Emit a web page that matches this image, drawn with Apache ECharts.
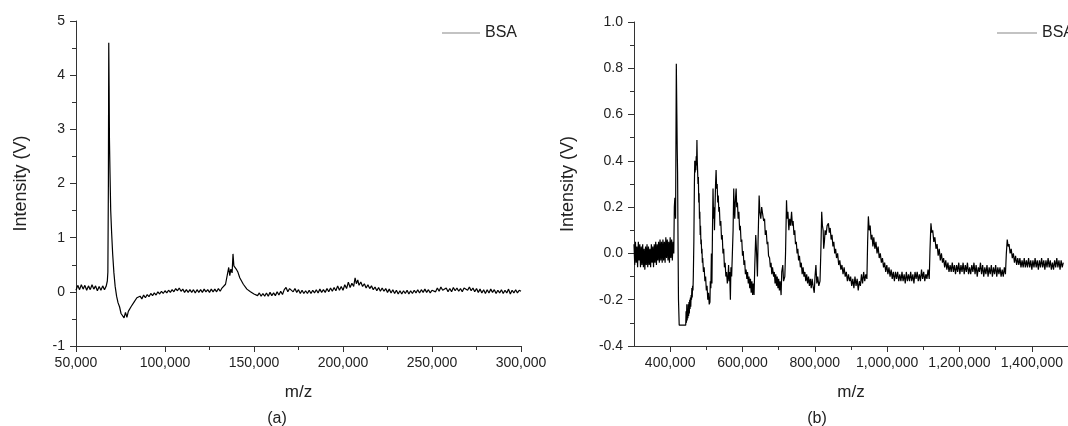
<!DOCTYPE html>
<html lang="en">
<head>
    <meta charset="UTF-8">
    <title>BSA spectra</title>
    <script src="https://cdn.jsdelivr.net/npm/echarts@6/dist/echarts.min.js"></script>
    <style>
        html, body { margin: 0; padding: 0; background: #fff; }
        #chart { width: 1068px; height: 426px; }
    </style>
</head>
<body>
<div id="chart"></div>
<script>
    // (a) low mass range, [m/z, intensity V]
    var bsaA = [
        [50000,0.03],[51000,0.12],[52000,0.04],[53000,0.13],[54000,0.05],[55000,0.12],[56000,0.03],[57000,0.11],
        [58000,0.04],[59000,0.13],[60000,0.05],[61000,0.11],[62000,0.02],[63000,0.10],[64000,0.03],[65000,0.11],
        [66000,0.04],[67000,0.11],[67600,0.20],[67900,0.36],[68200,2.0],[68400,4.6],[68600,3.8],[68800,2.8],
        [69100,2.2],[69500,1.5],[70000,1.1],[70600,0.7],[71300,0.35],[72000,0.1],[72800,-0.08],[73600,-0.2],
        [74500,-0.28],[75300,-0.40],[76200,-0.40],[77000,-0.48],[77800,-0.38],[78600,-0.47],[79400,-0.36],[80200,-0.37],
        [81000,-0.27],[81800,-0.30],[82600,-0.19],[83400,-0.22],[84200,-0.11],[85000,-0.14],[86000,-0.08],[87000,-0.13],
        [88000,-0.06],[89000,-0.11],[90000,-0.05],[91000,-0.09],[92000,-0.03],[93000,-0.07],[94000,-0.02],[95000,-0.06],
        [96000,0.0],[97000,-0.04],[98000,0.01],[99000,-0.03],[100000,0.02],[101000,-0.02],[102000,0.03],[103000,-0.01],
        [104000,0.04],[105000,0.0],[106000,0.06],[107000,0.02],[108000,0.07],[109000,0.01],[110000,0.05],[111000,-0.01],
        [112000,0.04],[113000,-0.01],[114000,0.04],[115000,-0.01],[116000,0.04],[117000,-0.02],[118000,0.04],[119000,-0.01],
        [120000,0.04],[121000,-0.01],[122000,0.05],[123000,0.0],[124000,0.04],[125000,-0.01],[126000,0.05],[127000,0.0],
        [128000,0.05],[129000,0.0],[130000,0.06],[131000,0.01],[132000,0.07],[133000,0.04],[134000,0.14],[135000,0.16],
        [135800,0.45],[136400,0.3],[137000,0.42],[137700,0.35],[138200,0.7],[138700,0.48],[139300,0.5],[140000,0.42],
        [141000,0.36],[142000,0.26],[143000,0.23],[144000,0.14],[145000,0.13],[146000,0.05],[147000,0.06],[148000,0.0],
        [149000,0.03],[150000,-0.04],[151000,-0.01],[152000,-0.07],[153000,-0.02],[154000,-0.08],[155000,-0.03],[156000,-0.08],
        [157000,-0.02],[158000,-0.08],[159000,-0.01],[160000,-0.07],[161000,-0.02],[162000,-0.07],[163000,0.0],[164000,-0.06],
        [165000,0.01],[166000,-0.05],[167000,0.04],[168000,0.08],[169000,0.0],[170000,0.06],[171000,0.07],[172000,0.0],
        [173000,0.06],[174000,-0.01],[175000,0.04],[176000,-0.03],[177000,0.03],[178000,-0.03],[179000,0.02],[180000,-0.03],
        [181000,0.03],[182000,-0.03],[183000,0.03],[184000,-0.02],[185000,0.04],[186000,-0.02],[187000,0.05],[188000,-0.01],
        [189000,0.04],[190000,-0.01],[191000,0.06],[192000,0.0],[193000,0.07],[194000,0.01],[195000,0.08],[196000,0.02],
        [197000,0.11],[198000,0.03],[199000,0.1],[200000,0.03],[201000,0.13],[202000,0.06],[203000,0.18],[204000,0.08],
        [205000,0.16],[206000,0.1],[206800,0.26],[207500,0.15],[208300,0.22],[209000,0.12],[210000,0.18],[211000,0.1],
        [212000,0.15],[213000,0.07],[214000,0.13],[215000,0.06],[216000,0.11],[217000,0.04],[218000,0.09],[219000,0.02],
        [220000,0.08],[221000,0.01],[222000,0.07],[223000,0.01],[224000,0.06],[225000,-0.01],[226000,0.05],[227000,-0.02],
        [228000,0.04],[229000,-0.03],[230000,0.03],[231000,-0.04],[232000,0.02],[233000,-0.04],[234000,0.02],[235000,-0.03],
        [236000,0.03],[237000,-0.04],[238000,0.02],[239000,-0.03],[240000,0.03],[241000,-0.02],[242000,0.04],[243000,-0.02],
        [244000,0.04],[245000,-0.01],[246000,0.05],[247000,-0.01],[248000,0.04],[249000,-0.02],[250000,0.03],[251000,0.06],
        [252000,0.0],[253000,0.07],[254000,0.01],[255000,0.09],[256000,0.03],[257000,0.01],[258000,0.07],[259000,0.0],
        [260000,0.06],[261000,0.0],[262000,0.08],[263000,0.02],[264000,0.07],[265000,0.01],[266000,0.06],[267000,0.0],
        [268000,0.07],[269000,0.1],[270000,0.03],[271000,0.09],[272000,0.02],[273000,0.07],[274000,0.0],[275000,0.06],
        [276000,-0.01],[277000,0.05],[278000,-0.02],[279000,0.04],[280000,-0.03],[281000,0.04],[282000,-0.02],[283000,0.05],
        [284000,-0.01],[285000,0.04],[286000,-0.03],[287000,0.03],[288000,-0.02],[289000,0.04],[290000,-0.03],[291000,0.03],
        [292000,-0.02],[293000,0.05],[294000,-0.04],[295000,0.03],[296000,-0.02],[297000,0.04],[298000,-0.02],[299000,0.03],
        [300000,0.01]
    ];

    // (b) high mass range
    var bsaB = [
        [300000,0.04],[302000,-0.05],[304000,0.05],[306000,-0.04],[308000,0.03],[310000,-0.06],[312000,0.05],[314000,-0.03],
        [316000,0.04],[318000,-0.06],[320000,0.03],[322000,-0.05],[324000,0.04],[326000,-0.06],[328000,0.02],[330000,-0.07],
        [332000,0.03],[334000,-0.05],[336000,0.04],[338000,-0.06],[340000,0.03],[342000,-0.05],[344000,0.02],[346000,-0.06],
        [348000,0.04],[350000,-0.04],[352000,0.03],[354000,-0.06],[356000,0.04],[358000,-0.04],[360000,0.05],[362000,-0.05],
        [364000,0.04],[366000,-0.03],[368000,0.05],[370000,-0.04],[372000,0.06],[374000,-0.03],[376000,0.05],[378000,-0.04],
        [380000,0.06],[382000,-0.03],[384000,0.05],[386000,-0.04],[388000,0.07],[390000,-0.02],[392000,0.06],[394000,-0.03],
        [396000,0.05],[398000,-0.04],[400000,0.07],[402000,-0.02],[404000,0.06],[406000,-0.03],[408000,0.05],
        [410000,0.0],[411500,0.2],[413000,0.24],[415000,0.15],[417000,0.82],[418500,0.6],[419500,0.45],[420500,0.35],
        [421500,0.1],[423000,-0.2],[425000,-0.31],[435000,-0.31],[443000,-0.31],[444000,-0.25],[445000,-0.3],[446000,-0.22],
        [447000,-0.29],[448000,-0.24],[449000,-0.28],[450000,-0.22],[451000,-0.27],[452000,-0.21],[453000,-0.26],[454000,-0.2],
        [455000,-0.24],[456000,-0.19],[457000,-0.23],[458000,-0.18],[459000,-0.2],[460000,-0.15],[461000,-0.19],[462000,-0.14],
        [463000,-0.16],[464000,-0.1],[465500,0.05],[467000,0.3],[468000,0.4],[469000,0.35],[470000,0.4],[471000,0.36],
        [472000,0.42],[473000,0.38],[474000,0.49],[475000,0.4],[476000,0.35],[477000,0.3],[478000,0.33],[479000,0.22],
        [480000,0.26],[481000,0.15],[482000,0.18],[483000,0.08],[484000,0.12],[485000,0.04],[486000,0.06],[487000,0.0],
        [488000,0.02],[489000,-0.04],[490000,-0.02],[492000,-0.08],[494000,-0.06],[496000,-0.12],[498000,-0.1],[500000,-0.16],
        [502000,-0.14],[504000,-0.2],[506000,-0.17],[508000,-0.22],[510000,-0.21],[511000,-0.12],
        [512500,-0.15],[514000,0.0],[515500,-0.13],[517000,0.1],[518500,0.28],[520000,0.15],[521500,0.2],[522500,0.1],
        [524000,0.2],[525500,0.3],[527000,0.36],[528500,0.28],[530000,0.3],[531500,0.22],[533000,0.25],[534500,0.18],
        [536000,0.2],[538000,0.12],[540000,0.14],[542000,0.06],[544000,0.08],[546000,0.0],[548000,0.02],[550000,-0.06],
        [552000,-0.04],[554000,-0.1],[556000,-0.08],[558000,-0.13],[560000,-0.1],[561500,-0.05],[563000,-0.12],[564500,-0.08],
        [566500,-0.2],[568000,-0.06],[570000,-0.1],[572000,0.0],
        [574000,0.1],[575800,0.28],[577000,0.2],[578600,0.15],[580000,0.22],[582400,0.28],[584000,0.2],[586000,0.22],
        [588000,0.15],[590000,0.18],[592000,0.1],[594000,0.12],[596000,0.05],[598000,0.06],[600000,-0.01],[602000,0.01],
        [604000,-0.05],[606000,-0.03],[608000,-0.09],[610000,-0.07],[612000,-0.11],[614000,-0.08],[616000,-0.13],[618000,-0.1],
        [620000,-0.15],[622000,-0.11],[624000,-0.17],[626000,-0.12],[628000,-0.18],[630000,-0.13],[632000,-0.18],[634000,-0.05],
        [636600,0.08],[638500,0.02],[641300,-0.1],[643000,0.05],[646000,0.25],[648000,0.18],[650600,0.15],[653000,0.2],
        [656200,0.2],[658500,0.14],[661000,0.15],[663000,0.08],[665600,0.1],[668000,0.04],[670000,0.05],[672000,-0.01],
        [674900,-0.02],[677000,-0.06],[679000,-0.04],[681000,-0.09],[683000,-0.06],[686100,-0.1],[688000,-0.08],[690000,-0.13],
        [692000,-0.09],[694000,-0.14],[696000,-0.1],[698000,-0.15],[700000,-0.11],[702000,-0.16],[704000,-0.12],[706700,-0.18],
        [708500,-0.08],[711400,-0.05],[713500,-0.12],[717000,-0.1],[719000,0.0],
        [721700,0.23],[723500,0.15],[725500,0.18],[728200,0.1],[730500,0.15],[733000,0.12],[735700,0.18],[738000,0.12],
        [740000,0.14],[742300,0.08],[744500,0.1],[746500,0.04],[748800,0.05],[751000,0.0],[753000,0.02],[755000,-0.03],
        [757500,-0.01],[760000,-0.06],[762500,-0.04],[765000,-0.09],[767500,-0.06],[770000,-0.1],[772500,-0.08],[775000,-0.12],
        [777500,-0.09],[780000,-0.13],[782500,-0.1],[785000,-0.14],[787500,-0.11],[790000,-0.15],[792500,-0.11],[795000,-0.14],
        [798400,-0.17],[800500,-0.1],[803000,-0.05],[805500,-0.13],[808000,-0.1],[811000,-0.14],[814300,-0.12],[816500,0.0],
        [819000,0.18],[821000,0.12],[823000,0.1],[824500,0.02],[826400,0.05],[828500,0.1],[831000,0.08],[834000,0.12],
        [837600,0.13],[840000,0.09],[842500,0.11],[845000,0.06],[847500,0.08],[850000,0.03],[852500,0.05],[855000,0.0],
        [857500,0.02],[860000,-0.02],[863000,0.0],[866000,-0.05],[869000,-0.03],[872000,-0.07],[875000,-0.05],[878000,-0.09],
        [881000,-0.06],[884000,-0.1],[887000,-0.08],[890000,-0.12],[893000,-0.09],[896000,-0.12],[899000,-0.1],[902000,-0.14],
        [905000,-0.11],[908000,-0.15],[911000,-0.1],[914000,-0.14],[917000,-0.11],[920000,-0.16],[923000,-0.12],[926000,-0.14],
        [929000,-0.09],[932000,-0.13],[935000,-0.08],[938000,-0.12],[941000,-0.09],[944000,-0.11],[946000,0.05],
        [948000,0.16],[950500,0.1],[953000,0.12],[955500,0.06],[958000,0.08],[960500,0.03],[963000,0.07],[966000,0.02],
        [969000,0.05],[972000,0.0],[975000,0.03],[978000,-0.02],[981000,0.0],[984000,-0.04],[987000,-0.02],[990000,-0.06],
        [993000,-0.04],[996000,-0.08],[999000,-0.05],[1002000,-0.09],[1005000,-0.06],[1008000,-0.1],[1011000,-0.07],[1014000,-0.11],
        [1017000,-0.08],[1020000,-0.12],[1023000,-0.08],[1026000,-0.11],[1029000,-0.08],[1032000,-0.12],[1035000,-0.09],[1038000,-0.12],
        [1041000,-0.08],[1044000,-0.12],[1047000,-0.09],[1050000,-0.13],[1053000,-0.08],[1056000,-0.12],[1059000,-0.09],[1062000,-0.12],
        [1065000,-0.08],[1068000,-0.12],[1071000,-0.09],[1074000,-0.13],[1077000,-0.08],[1080000,-0.11],[1083000,-0.08],[1086000,-0.12],
        [1089000,-0.09],[1092000,-0.12],[1095000,-0.07],[1098000,-0.11],[1101000,-0.08],[1104000,-0.12],[1107000,-0.09],[1110000,-0.11],
        [1113000,-0.07],[1116300,-0.11],[1118500,0.02],
        [1121000,0.13],[1123500,0.09],[1126000,0.1],[1129000,0.05],[1132000,0.07],[1135000,0.02],[1138000,0.04],[1141000,-0.01],
        [1144000,0.02],[1147000,-0.03],[1150000,0.0],[1153000,-0.04],[1156000,-0.02],[1159000,-0.06],[1162000,-0.03],[1165000,-0.07],
        [1168000,-0.04],[1171000,-0.08],[1174000,-0.05],[1177000,-0.08],[1180000,-0.04],[1183000,-0.08],[1186000,-0.05],[1189000,-0.09],
        [1192000,-0.05],[1195000,-0.08],[1198000,-0.04],[1201000,-0.09],[1204000,-0.05],[1207000,-0.08],[1210000,-0.04],[1213000,-0.09],
        [1216000,-0.05],[1219000,-0.08],[1222000,-0.04],[1225000,-0.09],[1228000,-0.06],[1231000,-0.09],[1234000,-0.05],[1237000,-0.08],
        [1240000,-0.04],[1243000,-0.09],[1246000,-0.05],[1249000,-0.1],[1252000,-0.06],[1255000,-0.08],[1258000,-0.04],[1261000,-0.09],
        [1264000,-0.05],[1267000,-0.1],[1270000,-0.06],[1273000,-0.09],[1276000,-0.05],[1279000,-0.1],[1282000,-0.06],[1285000,-0.09],
        [1288000,-0.05],[1291000,-0.1],[1294000,-0.06],[1297000,-0.09],[1300000,-0.05],[1303000,-0.1],[1306000,-0.06],[1309000,-0.09],
        [1312000,-0.06],[1315000,-0.1],[1318000,-0.07],[1321000,-0.1],[1324000,-0.06],[1327000,-0.09],[1329500,0.0],
        [1332000,0.06],[1334500,0.03],[1337000,0.04],[1340000,0.0],[1343000,0.02],[1346000,-0.02],[1349000,0.0],[1352000,-0.04],
        [1355000,-0.01],[1358000,-0.05],[1361000,-0.02],[1364000,-0.05],[1367000,-0.02],[1370000,-0.06],[1373000,-0.03],[1376000,-0.06],
        [1379000,-0.02],[1382000,-0.06],[1385000,-0.03],[1388000,-0.06],[1391000,-0.02],[1394000,-0.06],[1397000,-0.03],[1400000,-0.07],
        [1403000,-0.03],[1406000,-0.06],[1409000,-0.02],[1412000,-0.06],[1415000,-0.03],[1418000,-0.07],[1421000,-0.03],[1424000,-0.06],
        [1427000,-0.02],[1430000,-0.06],[1433000,-0.03],[1436000,-0.07],[1439000,-0.03],[1442000,-0.06],[1445000,-0.02],[1448000,-0.06],
        [1451000,-0.03],[1454000,-0.07],[1457000,-0.04],[1460000,-0.07],[1463000,-0.03],[1466000,-0.06],[1469000,-0.02],[1472000,-0.06],
        [1475000,-0.03],[1478000,-0.07],[1481000,-0.03],[1484000,-0.06],[1487000,-0.04]
    ];

    // tick values for the (b) x axis (starts at 300,000 so majors are listed)
    var majorTicksB = [400000, 600000, 800000, 1000000, 1200000, 1400000];
    var minorTicksB = [500000, 700000, 900000, 1100000, 1300000, 1500000];

    var FONT = 'Liberation Sans';
    var INK = '#222';

    function thousands(v) {
        return String(v).replace(/\B(?=(\d{3})+(?!\d))/g, ',');
    }

    var axisLine = {onZero: false, lineStyle: {color: '#333', width: 1}};
    var tickLab = {color: INK, fontFamily: FONT, fontSize: 14};

    var myChart = echarts.init(document.getElementById('chart'));

    var option = {
        animation: false,
        backgroundColor: '#fff',
        grid: [
            {left: 76, top: 21, width: 445, bottom: 80},
            {left: 634, top: 22, width: 440, bottom: 80}
        ],
        legend: [
            {
                data: ['BSA'], left: 437, top: 20, itemWidth: 38, itemHeight: 14,
                selectedMode: false, icon: 'path://M0,7L38,7L38,8L0,8Z',
                itemStyle: {color: '#888'},
                textStyle: {color: INK, fontFamily: FONT, fontSize: 16}
            },
            {
                data: ['BSA'], left: 992, top: 20, itemWidth: 40, itemHeight: 14,
                selectedMode: false, icon: 'path://M0,7L40,7L40,8L0,8Z',
                itemStyle: {color: '#888'},
                textStyle: {color: INK, fontFamily: FONT, fontSize: 16}
            }
        ],
        xAxis: [
            {
                gridIndex: 0, type: 'value', min: 50000, max: 300000, interval: 50000,
                name: 'm/z', nameLocation: 'middle', nameGap: 38,
                nameTextStyle: {color: INK, fontFamily: FONT, fontSize: 17},
                axisLine: axisLine,
                axisTick: {show: true, length: 6, lineStyle: {color: '#333'}},
                minorTick: {show: true, splitNumber: 2, length: 4, lineStyle: {color: '#333'}},
                axisLabel: Object.assign({margin: 10, formatter: thousands}, tickLab),
                splitLine: {show: false}
            },
            {
                gridIndex: 1, type: 'value', min: 300000, max: 1500000, position: 'bottom',
                name: 'm/z', nameLocation: 'middle', nameGap: 38,
                nameTextStyle: {color: INK, fontFamily: FONT, fontSize: 17},
                axisLine: axisLine,
                axisTick: {show: true, length: 6, customValues: majorTicksB, lineStyle: {color: '#333'}},
                axisLabel: Object.assign({margin: 10, formatter: thousands, customValues: majorTicksB}, tickLab),
                splitLine: {show: false}
            },
            {
                gridIndex: 1, type: 'value', min: 300000, max: 1500000, position: 'bottom', offset: 0,
                axisLine: {show: false, onZero: false},
                axisTick: {show: true, length: 4, customValues: minorTicksB, lineStyle: {color: '#333'}},
                axisLabel: {show: false},
                splitLine: {show: false}
            }
        ],
        yAxis: [
            {
                gridIndex: 0, type: 'value', min: -1, max: 5, interval: 1,
                name: 'Intensity (V)', nameLocation: 'middle', nameGap: 46,
                nameTextStyle: {color: INK, fontFamily: FONT, fontSize: 18},
                axisLine: Object.assign({show: true}, axisLine),
                axisTick: {show: true, length: 6, lineStyle: {color: '#333'}},
                minorTick: {show: true, splitNumber: 2, length: 4, lineStyle: {color: '#333'}},
                axisLabel: Object.assign({margin: 11}, tickLab),
                splitLine: {show: false}
            },
            {
                gridIndex: 1, type: 'value', min: -0.4, max: 1.0, interval: 0.2,
                name: 'Intensity (V)', nameLocation: 'middle', nameGap: 57,
                nameTextStyle: {color: INK, fontFamily: FONT, fontSize: 18},
                axisLine: Object.assign({show: true}, axisLine),
                axisTick: {show: true, length: 6, lineStyle: {color: '#333'}},
                minorTick: {show: true, splitNumber: 2, length: 4, lineStyle: {color: '#333'}},
                axisLabel: Object.assign({margin: 11, formatter: function (v) { return v.toFixed(1); }}, tickLab),
                splitLine: {show: false}
            }
        ],
        graphic: [
            {type: 'text', x: 277, y: 419, style: {text: '(a)', fill: INK, font: '16px "Liberation Sans"', align: 'center', verticalAlign: 'middle'}},
            {type: 'text', x: 817, y: 419, style: {text: '(b)', fill: INK, font: '16px "Liberation Sans"', align: 'center', verticalAlign: 'middle'}}
        ],
        series: [
            {
                name: 'BSA', type: 'line', xAxisIndex: 0, yAxisIndex: 0,
                data: bsaA, symbol: 'none', lineStyle: {color: '#000', width: 1.2}, itemStyle: {color: '#000'}
            },
            {
                name: 'BSA', type: 'line', xAxisIndex: 1, yAxisIndex: 1,
                data: bsaB, symbol: 'none', lineStyle: {color: '#000', width: 1.2}, itemStyle: {color: '#000'}
            }
        ]
    };

    myChart.setOption(option);
</script>
</body>
</html>
